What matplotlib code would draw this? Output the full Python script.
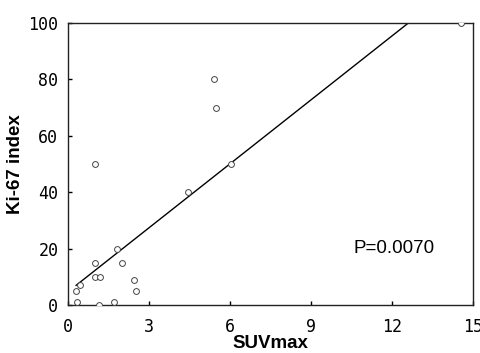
import matplotlib
matplotlib.use("Agg")
import matplotlib.pyplot as plt
import numpy as np

# Data
suv_max = [0.30, 0.35, 0.45, 1.00, 1.00, 1.00, 1.20, 1.15, 1.70, 1.80, 2.00, 2.45, 2.50, 4.45, 5.40, 5.50, 6.05, 14.55]
ki67 =    [5,    1,    7,    50,   15,   10,   10,   0,    1,    20,   15,   9,    5,    40,   80,   70,   50,   100]

fit_slope = 7.56
fit_intercept = 4.7
fit_x_range = [0.3, 12.6]

x_ticks = [0, 3, 6, 9, 12, 15]
y_ticks = [0, 20, 40, 60, 80, 100]
p_text = "P=0.0070"

fig = plt.figure(figsize=(4.81, 3.53), dpi=100)
ax = fig.add_axes([68/481, 1 - 305/353, (473-68)/481, (305-23)/353])

ax.plot(suv_max, ki67, linestyle="none", marker="o", markersize=4.2,
        markerfacecolor="white", markeredgecolor="#444444", markeredgewidth=0.7, zorder=3)

fx = np.array(fit_x_range)
ax.plot(fx, fit_slope * fx + fit_intercept, color="black", lw=1.0, zorder=2)

ax.set_xlim(0, 15)
ax.set_ylim(0, 100)
ax.set_xticks(x_ticks)
ax.set_yticks(y_ticks)
ax.set_xticklabels([str(t) for t in x_ticks], family="DejaVu Sans Mono", fontsize=12)
ax.set_yticklabels([str(t) for t in y_ticks], family="DejaVu Sans Mono", fontsize=12)
ax.tick_params(direction="in", length=3, width=1, top=False, right=False)
ax.tick_params(axis="x", pad=9)
ax.tick_params(axis="y", pad=7)

for s in ax.spines.values():
    s.set_linewidth(1.0)
    s.set_color("#222222")

ax.set_xlabel("SUVmax", family="Liberation Sans", fontweight="bold", fontsize=13.5, labelpad=0)
ax.set_ylabel("Ki-67 index", family="Liberation Sans", fontweight="bold", fontsize=13.5, labelpad=3)

ax.text(12.07, 20, p_text, family="Liberation Sans", fontsize=13.5, ha="center", va="center")

fig.savefig("out.png", dpi=100)
